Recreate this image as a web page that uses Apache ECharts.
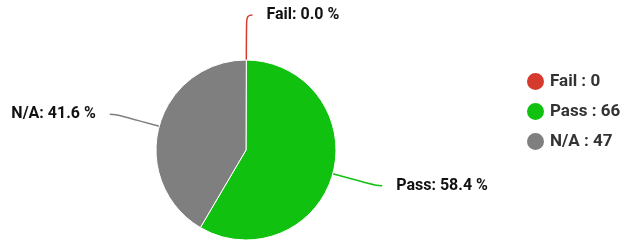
<!DOCTYPE html>
<html style="height: 100%">
<head>
    <meta charset="UTF-8">
    <title>Pass / Fail pie</title>
    <script src="https://cdn.jsdelivr.net/npm/echarts/dist/echarts.min.js"></script>
    <style>
        #main { width: 625px; height: 242px; }
    </style>
</head>
<body style="height: 100%; margin: 0">
    <div id="main"></div>
    <script type="text/javascript">
        var names = ['Fail', 'Pass', 'N/A'];
        var counts = [0, 66, 47];
        var colors = ['#d63a2c', '#10c20f', '#7f7f7f'];

        var chartDom = document.getElementById('main');
        var myChart = echarts.init(chartDom);

        var pieData = names.map(function (n, i) {
            return { name: n, value: counts[i], itemStyle: { color: colors[i] } };
        });

        var option = {
            animation: false,
            textStyle: { fontFamily: 'Roboto' },
            legend: {
                orient: 'vertical',
                left: 520,
                top: 66,
                icon: 'circle',
                itemWidth: 19,
                itemHeight: 19,
                itemGap: 9,
                data: names,
                formatter: function (name) {
                    return name + ' : ' + counts[names.indexOf(name)];
                },
                textStyle: { fontSize: 17, fontWeight: 'bold', color: '#333', fontFamily: 'Roboto' }
            },
            series: [{
                type: 'pie',
                center: [246, 150],
                radius: 90,
                startAngle: 89.8, // nudge so the zero slice's label falls to the right
                percentPrecision: 1,
                data: pieData,
                itemStyle: { borderColor: '#fff', borderWidth: 1 },
                label: {
                    formatter: function (p) {
                        return p.name + ': ' + p.percent.toFixed(1) + ' %';
                    },
                    fontSize: 16,
                    fontWeight: 'bold',
                    color: '#111',
                    fontFamily: 'Roboto',
                    distanceToLabelLine: 14
                },
                labelLine: {
                    length: 45,
                    length2: 6,
                    smooth: 0.5,
                    lineStyle: { width: 1.5 }
                }
            }]
        };

        myChart.setOption(option);
    </script>
</body>
</html>
